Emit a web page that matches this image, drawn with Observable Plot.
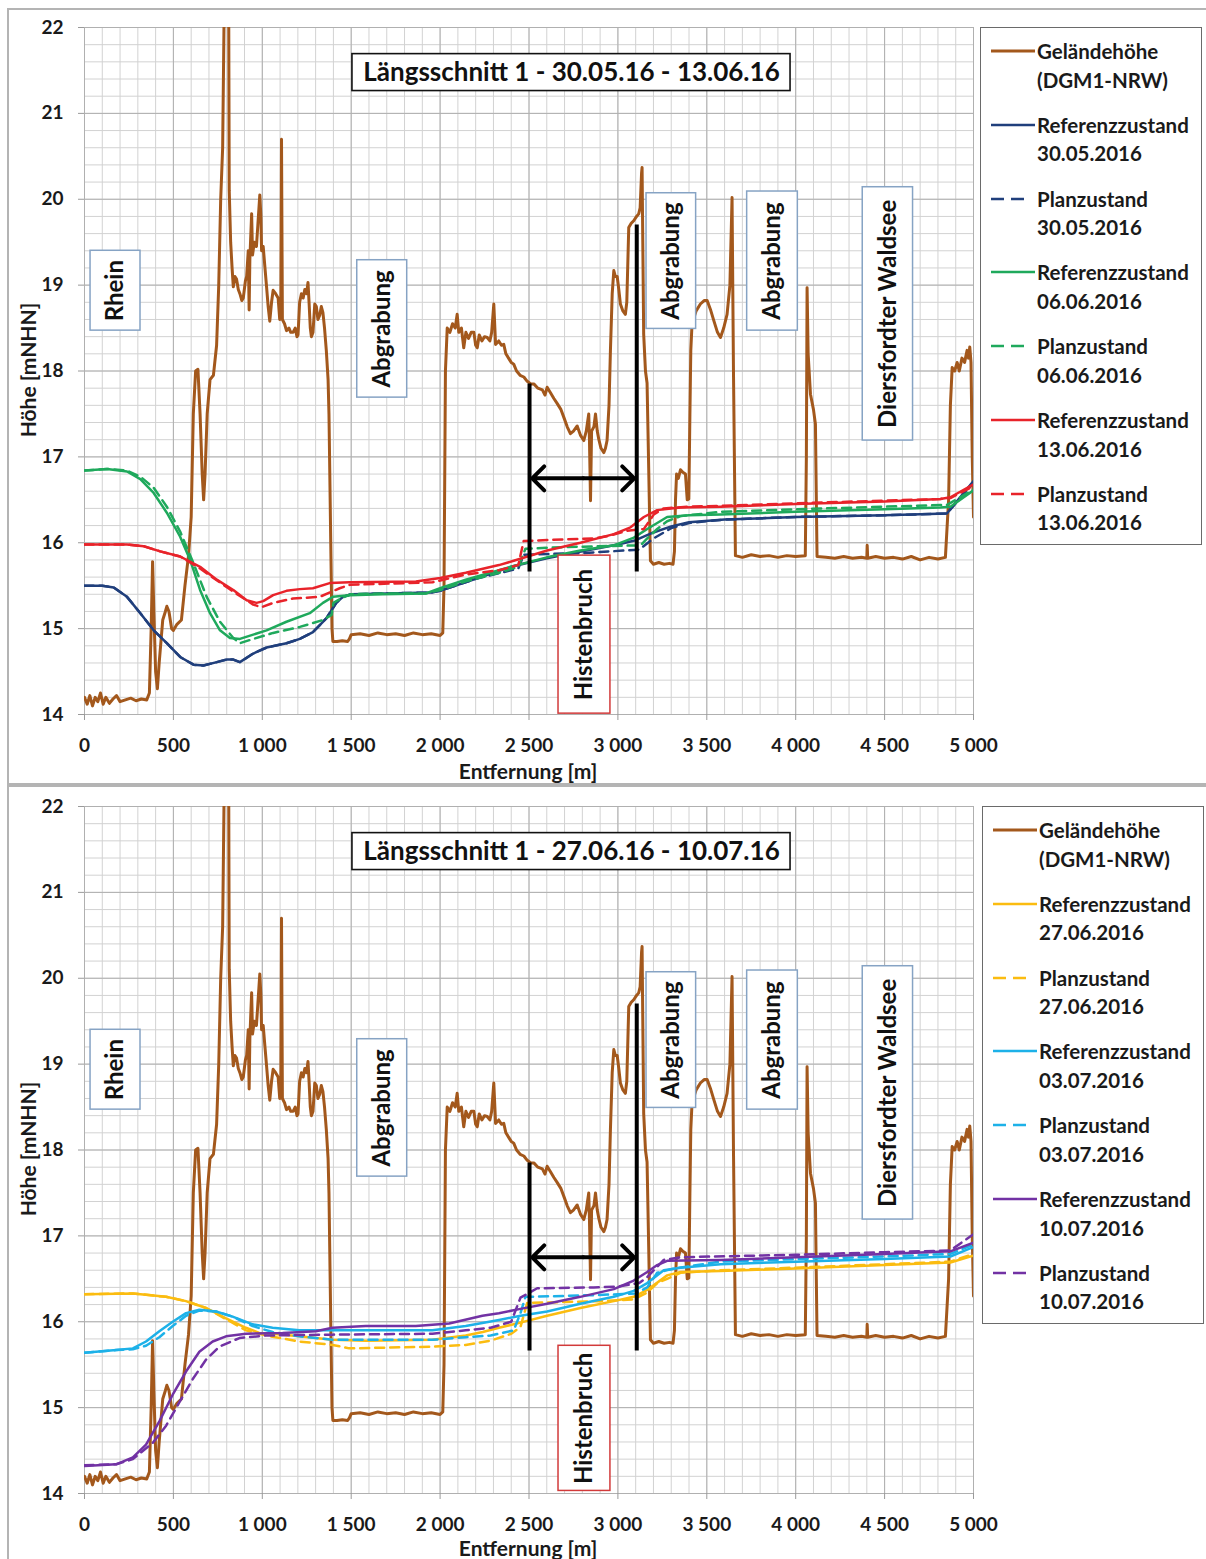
<!DOCTYPE html>
<html>
<head>
<meta charset="utf-8">
<script src="https://cdn.jsdelivr.net/npm/d3@7"></script>
<script src="https://cdn.jsdelivr.net/npm/@observablehq/plot@0.6"></script>
<style>
  html, body { margin: 0; padding: 0; background: #fff; }
  #page { position: relative; width: 1206px; height: 1559px; overflow: hidden; background: #fff; font-family: Lato, "Open Sans", sans-serif; }
  .frame { position: absolute; border: 2px solid #b4b4b4; box-sizing: border-box; }
  .svgwrap { position: absolute; left: 0; }
  .axlabel { position: absolute; font-weight: 700; font-size: 21px; line-height: 21px; color: #1a1a1a; white-space: nowrap; }
  .legend { position: absolute; border: 1px solid #6a6a6a; background: #fff; box-sizing: border-box; }
  .entry { position: absolute; left: 0; width: 100%; height: 60px; }
  .entry svg { position: absolute; left: 9px; top: 4px; }
  .entry .txt { position: absolute; left: 56px; top: 0; font-weight: 700; font-size: 20.5px; line-height: 28.5px; color: #1a1a1a; white-space: nowrap; }
</style>
</head>
<body>
<div id="page"></div>
<script>
// ---------- data ----------
const xTicks = [0, 500, 1000, 1500, 2000, 2500, 3000, 3500, 4000, 4500, 5000];
const yTicks = [14, 15, 16, 17, 18, 19, 20, 21, 22];

// Geländehöhe (DGM1-NRW) [m, mNHN]
const gelaende = [[0,14.2],[15,14.12],[30,14.22],[45,14.1],[60,14.2],[75,14.15],[90,14.25],[105,14.12],[120,14.2],[140,14.13],[160,14.18],[180,14.22],[200,14.15],[230,14.17],[260,14.19],[290,14.16],[320,14.18],[350,14.17],[365,14.25],[375,15.0],[383,15.78],[390,15.2],[400,14.5],[410,14.3],[420,14.6],[440,15.1],[455,15.2],[463,15.26],[475,15.2],[490,15.0],[500,14.98],[520,15.05],[545,15.1],[565,15.5],[585,15.85],[600,16.3],[612,17.5],[625,18.0],[638,18.02],[650,17.5],[662,16.8],[670,16.5],[678,16.8],[690,17.5],[706,17.9],[725,17.95],[743,18.3],[755,19.0],[766,20.0],[777,20.6],[786,22.3],[800,22.5],[811,22.3],[814,20.1],[822,19.5],[830,19.2],[837,18.98],[846,19.1],[855,19.07],[865,18.95],[874,18.9],[885,18.82],[893,18.85],[905,19.05],[912,19.1],[921,19.4],[926,18.71],[930,19.3],[940,19.83],[945,19.35],[955,19.5],[967,19.45],[975,19.7],[986,20.05],[992,19.8],[996,19.4],[1005,19.45],[1015,19.2],[1024,18.98],[1033,18.75],[1042,18.58],[1052,18.8],[1061,18.94],[1075,18.9],[1089,18.85],[1098,18.6],[1104,18.7],[1108,20.7],[1113,18.6],[1125,18.55],[1136,18.47],[1150,18.5],[1160,18.45],[1173,18.45],[1185,18.5],[1195,18.4],[1201,18.42],[1210,18.8],[1220,18.9],[1230,18.85],[1239,18.95],[1249,18.9],[1257,19.03],[1263,18.8],[1270,18.5],[1276,18.4],[1285,18.45],[1295,18.78],[1304,18.75],[1313,18.6],[1323,18.65],[1332,18.75],[1341,18.68],[1350,18.5],[1360,18.24],[1370,17.9],[1375,17.5],[1385,16.0],[1392,15.0],[1397,14.85],[1420,14.85],[1450,14.86],[1480,14.85],[1490,14.88],[1500,14.93],[1550,14.94],[1600,14.92],[1650,14.95],[1700,14.93],[1750,14.94],[1800,14.92],[1850,14.95],[1900,14.93],[1950,14.94],[2000,14.92],[2015,14.95],[2022,15.5],[2030,18.0],[2040,18.5],[2055,18.45],[2070,18.55],[2085,18.5],[2096,18.66],[2105,18.45],[2120,18.5],[2133,18.27],[2145,18.45],[2160,18.38],[2175,18.45],[2190,18.45],[2200,18.3],[2209,18.27],[2220,18.42],[2235,18.35],[2250,18.4],[2265,18.39],[2280,18.35],[2290,18.45],[2302,18.78],[2308,18.5],[2312,18.31],[2330,18.35],[2345,18.3],[2358,18.31],[2370,18.2],[2385,18.15],[2400,18.1],[2414,18.08],[2430,18.0],[2450,17.95],[2471,17.93],[2490,17.88],[2510,17.85],[2527,17.85],[2550,17.8],[2575,17.78],[2590,17.72],[2602,17.81],[2620,17.75],[2640,17.68],[2659,17.62],[2680,17.55],[2696,17.46],[2715,17.35],[2733,17.27],[2750,17.3],[2771,17.36],[2790,17.25],[2808,17.19],[2822,17.3],[2836,17.5],[2840,17.2],[2846,16.49],[2852,17.3],[2865,17.35],[2874,17.5],[2884,17.3],[2893,17.2],[2905,17.1],[2921,17.05],[2930,17.1],[2939,17.19],[2950,17.6],[2958,18.24],[2968,18.9],[2977,19.17],[2986,19.1],[2996,19.1],[3005,18.95],[3014,18.78],[3028,18.7],[3042,18.66],[3050,18.8],[3061,19.67],[3075,19.72],[3089,19.75],[3105,19.8],[3117,19.83],[3125,19.9],[3133,20.3],[3136,20.37],[3140,19.5],[3145,18.43],[3155,18.0],[3164,17.86],[3172,17.0],[3183,15.79],[3200,15.75],[3230,15.77],[3260,15.75],[3290,15.76],[3310,15.75],[3318,15.9],[3324,16.5],[3330,16.8],[3340,16.75],[3352,16.85],[3365,16.82],[3380,16.8],[3390,16.5],[3399,16.51],[3405,17.5],[3410,18.24],[3417,18.55],[3440,18.7],[3464,18.78],[3485,18.82],[3502,18.82],[3520,18.72],[3539,18.59],[3560,18.45],[3577,18.39],[3595,18.5],[3614,18.66],[3630,19.0],[3642,20.02],[3650,18.0],[3661,15.85],[3700,15.83],[3750,15.86],[3800,15.84],[3850,15.85],[3900,15.83],[3950,15.85],[4000,15.84],[4054,15.85],[4060,17.0],[4064,18.97],[4070,18.2],[4083,17.73],[4100,17.55],[4111,17.38],[4116,16.5],[4120,15.84],[4170,15.83],[4220,15.82],[4270,15.84],[4320,15.82],[4370,15.83],[4400,15.82],[4402,15.97],[4405,15.82],[4450,15.84],[4500,15.82],[4550,15.83],[4600,15.81],[4650,15.84],[4700,15.8],[4750,15.83],[4800,15.81],[4842,15.83],[4860,16.5],[4870,17.6],[4880,18.04],[4894,18.0],[4908,18.1],[4920,18.0],[4935,18.15],[4950,18.1],[4964,18.24],[4972,18.15],[4979,18.28],[4986,18.1],[4993,17.0],[5000,16.3]];

// Top panel water levels
const ref3005 = [[0,15.50],[100,15.50],[164,15.48],[239,15.37],[314,15.18],[389,14.98],[463,14.83],[538,14.67],[613,14.58],[669,14.57],[744,14.61],[800,14.64],[837,14.64],[874,14.61],[949,14.71],[1024,14.78],[1136,14.83],[1211,14.88],[1285,14.96],[1360,15.12],[1416,15.30],[1453,15.37],[1500,15.40],[1700,15.41],[1950,15.42],[2000,15.44],[2200,15.58],[2400,15.72],[2600,15.82],[2800,15.90],[3000,15.98],[3100,16.03],[3200,16.12],[3300,16.19],[3400,16.24],[3600,16.27],[4000,16.30],[4500,16.32],[4850,16.34],[5000,16.72]];
const plan3005 = [[0,15.50],[100,15.50],[164,15.48],[239,15.37],[314,15.18],[389,14.98],[463,14.83],[538,14.67],[613,14.58],[669,14.57],[744,14.61],[800,14.64],[837,14.64],[874,14.61],[949,14.71],[1024,14.78],[1136,14.83],[1211,14.88],[1285,14.96],[1360,15.12],[1416,15.30],[1453,15.37],[1500,15.40],[1700,15.41],[1950,15.42],[2000,15.44],[2200,15.58],[2440,15.70],[2470,15.86],[2800,15.88],[3120,15.92],[3200,16.05],[3300,16.17],[3400,16.23],[3600,16.27],[4000,16.30],[4500,16.32],[4850,16.34],[5000,16.70]];
const ref0606 = [[0,16.84],[127,16.86],[239,16.83],[314,16.74],[389,16.58],[463,16.35],[538,16.07],[594,15.80],[650,15.45],[706,15.18],[762,14.98],[818,14.89],[874,14.88],[949,14.93],[1024,14.98],[1136,15.08],[1267,15.18],[1341,15.30],[1397,15.37],[1491,15.39],[1678,15.40],[1920,15.41],[2000,15.47],[2144,15.57],[2331,15.68],[2414,15.73],[2600,15.83],[2789,15.91],[2977,15.97],[3090,16.06],[3165,16.16],[3277,16.30],[3400,16.32],[3577,16.33],[4000,16.36],[4500,16.39],[4814,16.41],[4870,16.42],[5000,16.61]];
const plan0606 = [[0,16.84],[127,16.86],[239,16.84],[314,16.77],[389,16.64],[463,16.42],[538,16.13],[613,15.76],[687,15.37],[762,15.08],[837,14.89],[874,14.83],[949,14.88],[1061,14.95],[1211,15.02],[1341,15.10],[1390,15.16],[1400,15.30],[1450,15.36],[1500,15.40],[1700,15.41],[1920,15.41],[2000,15.45],[2144,15.55],[2331,15.65],[2440,15.72],[2480,15.93],[2700,15.95],[3127,15.97],[3165,16.05],[3221,16.16],[3277,16.25],[3352,16.31],[3577,16.36],[4000,16.39],[4500,16.42],[4850,16.44],[5000,16.62]];
const ref1306 = [[0,15.98],[239,15.98],[333,15.96],[426,15.90],[538,15.84],[650,15.72],[744,15.57],[837,15.45],[912,15.33],[968,15.30],[1005,15.32],[1061,15.39],[1136,15.44],[1211,15.46],[1285,15.47],[1379,15.53],[1491,15.54],[1864,15.55],[2000,15.59],[2144,15.65],[2331,15.74],[2414,15.79],[2602,15.91],[2789,16.00],[2977,16.10],[3071,16.18],[3146,16.30],[3221,16.38],[3352,16.41],[3577,16.42],[4000,16.45],[4500,16.48],[4814,16.51],[4870,16.53],[5000,16.68]];
const plan1306 = [[0,15.98],[239,15.98],[333,15.96],[426,15.90],[538,15.84],[650,15.70],[725,15.59],[837,15.43],[949,15.28],[996,15.25],[1061,15.30],[1173,15.35],[1323,15.37],[1435,15.47],[1491,15.51],[1958,15.54],[2144,15.63],[2331,15.68],[2440,15.74],[2470,16.02],[2700,16.04],[2864,16.05],[2950,16.08],[3050,16.14],[3146,16.16],[3202,16.33],[3258,16.40],[3400,16.42],[3577,16.43],[4000,16.46],[4500,16.49],[4814,16.51],[4870,16.52],[5000,16.66]];

// Bottom panel water levels
const ref2706 = [[0,16.32],[272,16.33],[459,16.29],[571,16.24],[684,16.16],[796,16.04],[908,15.93],[983,15.87],[1058,15.86],[1208,15.83],[1395,15.79],[1582,15.78],[1957,15.79],[2144,15.84],[2240,15.88],[2331,15.93],[2452,15.99],[2602,16.07],[2789,16.16],[2977,16.24],[3089,16.29],[3165,16.37],[3277,16.54],[3352,16.58],[3577,16.59],[4000,16.62],[4500,16.66],[4870,16.69],[5000,16.77]];
const plan2706 = [[0,16.32],[272,16.33],[459,16.29],[571,16.24],[684,16.16],[796,16.03],[908,15.90],[1021,15.84],[1208,15.77],[1395,15.73],[1489,15.69],[1957,15.71],[2144,15.73],[2284,15.78],[2400,15.86],[2452,15.94],[2490,16.22],[2700,16.23],[2900,16.24],[3089,16.26],[3165,16.34],[3221,16.45],[3277,16.50],[3352,16.57],[3577,16.60],[4000,16.63],[4500,16.67],[4870,16.70],[5000,16.79]];
const ref0307 = [[0,15.64],[178,15.67],[272,15.69],[346,15.77],[421,15.89],[496,16.00],[571,16.10],[646,16.14],[740,16.12],[833,16.06],[946,15.97],[1058,15.93],[1208,15.90],[1395,15.90],[1957,15.90],[2144,15.95],[2331,16.02],[2452,16.07],[2602,16.12],[2789,16.21],[2977,16.29],[3089,16.36],[3165,16.45],[3258,16.60],[3352,16.63],[3577,16.67],[4000,16.70],[4500,16.73],[4870,16.76],[5000,16.87]];
const plan0307 = [[0,15.64],[178,15.67],[272,15.68],[346,15.72],[421,15.82],[496,15.95],[571,16.07],[646,16.13],[740,16.12],[833,16.06],[946,15.95],[1058,15.88],[1208,15.83],[1395,15.79],[1957,15.79],[2144,15.82],[2284,15.84],[2414,15.90],[2452,16.10],[2480,16.29],[2864,16.31],[3000,16.32],[3100,16.33],[3165,16.40],[3221,16.57],[3315,16.62],[3577,16.70],[4000,16.73],[4500,16.76],[4870,16.79],[5000,16.90]];
const ref1007 = [[0,14.32],[178,14.34],[272,14.42],[346,14.57],[421,14.84],[496,15.15],[571,15.42],[646,15.65],[721,15.77],[796,15.83],[908,15.86],[1114,15.87],[1301,15.89],[1395,15.93],[1582,15.95],[1863,15.95],[2051,15.98],[2238,16.07],[2331,16.10],[2452,16.15],[2602,16.21],[2789,16.29],[2977,16.38],[3089,16.48],[3165,16.58],[3221,16.66],[3277,16.71],[3577,16.72],[4000,16.75],[4500,16.79],[4870,16.82],[5000,16.92]];
const plan1007 = [[0,14.33],[178,14.34],[272,14.40],[384,14.59],[459,14.79],[533,15.06],[608,15.33],[684,15.56],[758,15.71],[871,15.81],[1021,15.84],[1395,15.85],[1957,15.86],[2144,15.90],[2284,15.93],[2400,16.00],[2452,16.28],[2546,16.39],[2864,16.40],[3000,16.41],[3120,16.45],[3165,16.52],[3258,16.72],[3352,16.75],[3540,16.76],[4000,16.78],[4500,16.81],[4870,16.83],[5000,17.02]];

// Annotations (data coordinates)
const titles = ["Längsschnitt 1 - 30.05.16 - 13.06.16", "Längsschnitt 1 - 27.06.16 - 10.07.16"];
const labelBoxes = [
  {text: "Rhein", x1: 34, x2: 315, y1: 18.47, y2: 19.40},
  {text: "Abgrabung", x1: 1534, x2: 1815, y1: 17.69, y2: 19.29},
  {text: "Abgrabung", x1: 3161, x2: 3440, y1: 18.49, y2: 20.07},
  {text: "Abgrabung", x1: 3727, x2: 4012, y1: 18.47, y2: 20.09},
  {text: "Diersfordter Waldsee", x1: 4377, x2: 4660, y1: 17.19, y2: 20.14}
];
const histenBoxes = [
  {text: "Histenbruch", x1: 2666, x2: 2958, y1: 14.01, y2: 15.85},
  {text: "Histenbruch", x1: 2666, x2: 2958, y1: 14.03, y2: 15.72}
];
const titleBox = {x1: 1507, x2: 3971, y1: 21.26, y2: 21.69};
const histLines = [{x: 2503, y1: 15.66, y2: 17.85}, {x: 3106, y1: 15.66, y2: 19.70}];
const histArrows = [{x1: 2805, x2: 2518, y: 16.75}, {x1: 2805, x2: 3092, y: 16.75}];

// Legend / series
const gelaendeName = ["Geländehöhe", "(DGM1-NRW)"];
const panelSeries = [
  [
    {name: "Referenzzustand", date: "30.05.2016", data: ref3005, color: "#203f7c", dash: false},
    {name: "Planzustand", date: "30.05.2016", data: plan3005, color: "#203f7c", dash: true},
    {name: "Referenzzustand", date: "06.06.2016", data: ref0606, color: "#1fa95c", dash: false},
    {name: "Planzustand", date: "06.06.2016", data: plan0606, color: "#1fa95c", dash: true},
    {name: "Referenzzustand", date: "13.06.2016", data: ref1306, color: "#e8232a", dash: false},
    {name: "Planzustand", date: "13.06.2016", data: plan1306, color: "#e8232a", dash: true}
  ],
  [
    {name: "Referenzzustand", date: "27.06.2016", data: ref2706, color: "#fbbc10", dash: false},
    {name: "Planzustand", date: "27.06.2016", data: plan2706, color: "#fbbc10", dash: true},
    {name: "Referenzzustand", date: "03.07.2016", data: ref0307, color: "#1db1e8", dash: false},
    {name: "Planzustand", date: "03.07.2016", data: plan0307, color: "#1db1e8", dash: true},
    {name: "Referenzzustand", date: "10.07.2016", data: ref1007, color: "#7232a4", dash: false},
    {name: "Planzustand", date: "10.07.2016", data: plan1007, color: "#7232a4", dash: true}
  ]
];

// ---------- layout ----------
const BROWN = "#a3581c";
const DASH = "9,6";
const FONT = "Lato, 'Open Sans', sans-serif";
const panels = [
  {top: 0, height: 785, marginTop: 27, marginBottom: 71, frameTop: 8, frameH: 777, legendTop: 27, legendLeft: 980, xLabelY: 760, yLabelY: 370},
  {top: 785, height: 774, marginTop: 21, marginBottom: 66, frameTop: 785, frameH: 790, legendTop: 806, legendLeft: 982, xLabelY: 1537, yLabelY: 1149}
];

const fmt = d => d >= 1000 ? `${Math.floor(d / 1000)} ${String(d % 1000).padStart(3, "0")}` : String(d);
const page = document.getElementById("page");

panels.forEach((p, i) => {
  const frame = document.createElement("div");
  frame.className = "frame";
  Object.assign(frame.style, {left: "7px", top: p.frameTop + "px", width: "1210px", height: p.frameH + "px"});
  page.appendChild(frame);

  const series = panelSeries[i];
  const minorX = d3.range(0, 5001, 100);
  const minorY = d3.range(0, 41).map(k => 14 + k * 0.2);
  const hb = histenBoxes[i];

  const marks = [
    Plot.ruleX(minorX, {stroke: "#d2d2d2", strokeWidth: 1}),
    Plot.ruleY(minorY, {stroke: "#d2d2d2", strokeWidth: 1}),
    Plot.ruleX(xTicks, {stroke: "#b0b0b0", strokeWidth: 1}),
    Plot.ruleY(yTicks, {stroke: "#b0b0b0", strokeWidth: 1}),
    Plot.axisX({ticks: xTicks, tickFormat: fmt, tickSize: 6, tickPadding: 18, fontSize: 19, fontWeight: "bold", stroke: "#9a9a9a", label: null}),
    Plot.axisY({ticks: yTicks, tickSize: 6, tickPadding: 15, fontSize: 19, fontWeight: "bold", stroke: "#9a9a9a", label: null}),
    Plot.line(gelaende, {x: d => d[0], y: d => d[1], stroke: BROWN, strokeWidth: 3, clip: true}),
    ...series.map(s => Plot.line(s.data, {x: d => d[0], y: d => d[1], stroke: s.color, strokeWidth: 2.5, strokeDasharray: s.dash ? DASH : null, clip: true})),
    Plot.ruleX(histLines, {x: "x", y1: "y1", y2: "y2", stroke: "black", strokeWidth: 4}),
    Plot.arrow(histArrows, {x1: "x1", x2: "x2", y1: "y", y2: "y", stroke: "black", strokeWidth: 4, headLength: 18, headAngle: 90}),
    Plot.rect(labelBoxes, {x1: "x1", x2: "x2", y1: "y1", y2: "y2", fill: "white", stroke: "#86a3c4", strokeWidth: 1.5}),
    Plot.text(labelBoxes, {x: d => (d.x1 + d.x2) / 2, y: d => (d.y1 + d.y2) / 2, text: "text", rotate: -90, fontSize: 24, fontWeight: "bold", fill: "#111"}),
    Plot.rect([hb], {x1: "x1", x2: "x2", y1: "y1", y2: "y2", fill: "white", stroke: "#d23a3a", strokeWidth: 1.5}),
    Plot.text([hb], {x: d => (d.x1 + d.x2) / 2, y: d => (d.y1 + d.y2) / 2, text: "text", rotate: -90, fontSize: 24, fontWeight: "bold", fill: "#111"}),
    Plot.rect([titleBox], {x1: "x1", x2: "x2", y1: "y1", y2: "y2", fill: "white", stroke: "#111", strokeWidth: 1.6}),
    Plot.text([titleBox], {x: d => (d.x1 + d.x2) / 2, y: d => (d.y1 + d.y2) / 2, text: () => titles[i], fontSize: 26, fontWeight: "bold", fill: "#111"})
  ];

  const svg = Plot.plot({
    width: 1206, height: p.height,
    marginLeft: 84, marginRight: 233, marginTop: p.marginTop, marginBottom: p.marginBottom,
    x: {type: "linear", domain: [0, 5000]},
    y: {type: "linear", domain: [14, 22]},
    style: {fontFamily: FONT, fontSize: "19px", color: "#1a1a1a", background: "transparent", overflow: "visible"},
    marks
  });
  const wrap = document.createElement("div");
  wrap.className = "svgwrap";
  wrap.style.top = p.top + "px";
  wrap.appendChild(svg);
  page.appendChild(wrap);

  // axis titles
  const xl = document.createElement("div");
  xl.className = "axlabel";
  xl.textContent = "Entfernung [m]";
  Object.assign(xl.style, {left: "528px", top: p.xLabelY + "px", transform: "translateX(-50%)"});
  page.appendChild(xl);
  const yl = document.createElement("div");
  yl.className = "axlabel";
  yl.textContent = "Höhe [mNHN]";
  Object.assign(yl.style, {left: "27px", top: p.yLabelY + "px", transform: "translate(-50%, -50%) rotate(-90deg)"});
  page.appendChild(yl);

  // legend
  const lg = document.createElement("div");
  lg.className = "legend";
  Object.assign(lg.style, {left: p.legendLeft + "px", top: p.legendTop + "px", width: "222px", height: "518px"});
  const entries = [{lines: gelaendeName, color: BROWN, dash: false, w: 3}].concat(series.map(s => ({lines: [s.name, s.date], color: s.color, dash: s.dash, w: 2.5})));
  entries.forEach((e, k) => {
    const en = document.createElement("div");
    en.className = "entry";
    en.style.top = (9 + k * 73.8) + "px";
    const ns = "http://www.w3.org/2000/svg";
    const s = document.createElementNS(ns, "svg");
    s.setAttribute("width", "46"); s.setAttribute("height", "20");
    const ln = document.createElementNS(ns, "line");
    ln.setAttribute("x1", "1"); ln.setAttribute("x2", e.dash ? "34" : "45"); ln.setAttribute("y1", "10"); ln.setAttribute("y2", "10");
    ln.setAttribute("stroke", e.color); ln.setAttribute("stroke-width", e.w);
    if (e.dash) ln.setAttribute("stroke-dasharray", "13,7");
    s.appendChild(ln);
    en.appendChild(s);
    const t = document.createElement("div");
    t.className = "txt";
    t.innerHTML = e.lines.join("<br>");
    en.appendChild(t);
    lg.appendChild(en);
  });
  page.appendChild(lg);
});
</script>
</body>
</html>
